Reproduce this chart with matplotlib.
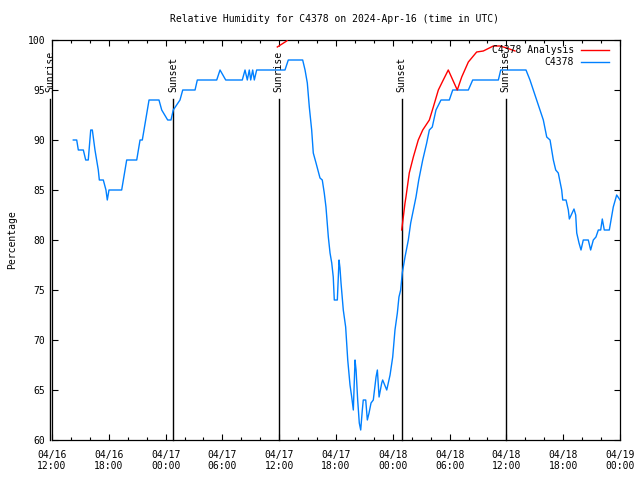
import numpy as np
import matplotlib
matplotlib.use("Agg")
import matplotlib.pyplot as plt

# Hours since 2024-04-16 12:00 UTC
obs_hours = [2.25, 2.61, 2.78, 3.31, 3.56, 3.83, 4.09, 4.26, 4.54, 4.89, 5.0, 5.42, 5.70, 5.84, 6.02,
             7.36, 7.89, 8.95, 9.30, 9.54, 10.25, 11.30, 11.59, 12.22, 12.57, 12.81, 13.52, 13.81,
             15.11, 15.35, 17.40, 17.75, 18.35, 20.10, 20.39, 20.63, 20.84, 20.99, 21.20, 21.37,
             21.62, 24.61, 24.96, 26.48, 26.73, 26.97, 27.18, 27.43, 27.60, 27.89, 28.31, 28.55,
             28.76, 28.94, 29.19, 29.37, 29.55, 29.71, 29.82, 30.14, 30.32, 30.42, 30.53, 30.77,
             31.02, 31.24, 31.48, 31.66, 31.83, 32.01, 32.12, 32.29, 32.46, 32.61, 32.78, 32.88,
             33.14, 33.31, 33.49, 33.70, 33.94, 34.23, 34.37, 34.55, 34.83, 34.93, 35.36, 35.71,
             35.99, 36.23, 36.48, 36.65, 36.83, 37.00, 37.29, 37.64, 37.89, 38.17, 38.45, 38.74,
             39.16, 39.58, 39.86, 40.17, 40.56, 41.09, 41.97, 42.33, 43.98, 44.44, 47.15, 47.40,
             50.07, 50.49, 51.20, 51.90, 52.26, 52.61, 52.96, 53.21, 53.48, 53.84, 53.95, 54.30,
             54.54, 54.65, 55.14, 55.32, 55.43, 55.67, 55.88, 56.12, 56.65, 56.90, 57.18, 57.46,
             57.71, 57.96, 58.13, 58.34, 58.87, 59.29, 59.65, 60.0]
obs_values = [90, 90, 89, 89, 88, 88, 91, 91, 89, 87, 86, 86, 85, 84, 85,
              85, 88, 88, 90, 90, 94, 94, 93, 92, 92, 93, 94, 95,
              95, 96, 96, 97, 96, 96, 97, 96, 97, 96, 97, 96,
              97, 97, 98, 98, 97, 95.7, 93.3, 91, 88.7, 87.7, 86.2, 86,
              84.7, 83.3, 80.3, 78.7, 77.7, 76.3, 74, 74, 78, 77.2, 75.7, 73,
              71.3, 68, 65.5, 64.3, 63, 68, 67, 64, 61.7, 61, 63, 64,
              64, 62, 62.7, 63.7, 64, 66.3, 67, 64.3, 65.7, 66, 65, 66.5,
              68.3, 71, 72.7, 74.3, 75, 76.7, 78.3, 80, 81.7, 83, 84.3, 86,
              88, 89.7, 91, 91.3, 93, 94, 94, 95, 95, 96, 96, 97,
              97, 96, 94, 92, 90.3, 90, 88, 87, 86.7, 85, 84, 84,
              83, 82.1, 83.1, 82.5, 80.7, 79.7, 79, 80, 80, 79, 80, 80.3,
              81, 81, 82.1, 81, 81, 83.3, 84.5, 84]

ana_hours = [23.80, 24.79, 25.0, np.nan, 36.94, 37.11, 37.29, 37.39, 37.74, 38.17, 38.69, 39.16,
             39.86, 40.28, 40.81, 41.33, 41.86, 42.81, 43.28, 43.98, 44.86, 45.56, 46.62,
             47.32, 48.03, 48.91]
ana_values = [99.3, 99.9, 100.2, np.nan, 81, 82.3, 83.7, 84.3, 86.7, 88.3, 90, 91,
              92, 93.3, 95, 96, 97, 95, 96.3, 97.8, 98.8, 98.9, 99.4,
              99.4, 99.2, 98.9]

sun_hours = [-0.2, 12.81, 23.95, 36.94, 47.93]
sun_labels = ["Sunrise", "Sunset", "Sunrise", "Sunset", "Sunrise"]

xtick_hours = [0, 6, 12, 18, 24, 30, 36, 42, 48, 54, 60]
xtick_labels = ["04/16\n12:00", "04/16\n18:00", "04/17\n00:00", "04/17\n06:00", "04/17\n12:00",
                "04/17\n18:00", "04/18\n00:00", "04/18\n06:00", "04/18\n12:00", "04/18\n18:00",
                "04/19\n00:00"]
ytick_values = [60, 65, 70, 75, 80, 85, 90, 95, 100]

FONT = "DejaVu Sans Mono"
FS = 7
plt.rcParams['font.family'] = FONT

fig = plt.figure(figsize=(6.4, 4.8), dpi=100)
ax = fig.add_axes([52/640, 40/480, 568/640, 400/480])

ax.plot(obs_hours, obs_values, color='#0080ff', lw=1.0, zorder=3)
ax.plot(ana_hours, ana_values, color='#ff0000', lw=1.0, zorder=3)

ax.set_xlim(0, 60)
ax.set_ylim(60, 100)

for h, lab in zip(sun_hours, sun_labels):
    ax.plot([h, h], [60, 94.1], color='black', lw=1.0, clip_on=False, zorder=2)
    ax.text(h, 94.8, lab, rotation=90, ha='center', va='bottom', fontsize=FS, zorder=4)

ax.set_xticks(xtick_hours)
ax.set_xticklabels(xtick_labels, fontsize=FS)
ax.set_xticks(np.arange(0, 61, 2), minor=True)
ax.set_yticks(ytick_values)
ax.set_yticklabels([str(v) for v in ytick_values], fontsize=FS)
ax.tick_params(axis='both', which='major', direction='in', length=4, width=0.8,
               top=True, right=True, pad=5)
ax.tick_params(axis='x', which='minor', direction='in', length=2, width=0.8, top=True)
ax.tick_params(axis='x', which='major', pad=7)
for sp in ax.spines.values():
    sp.set_linewidth(0.9)

# legend (gnuplot style)
ax.text(0.919, 0.975, "C4378 Analysis", transform=ax.transAxes, ha='right', va='center', fontsize=FS, zorder=5)
ax.plot([0.9313, 0.9815], [0.975, 0.975], transform=ax.transAxes, color='#ff0000', lw=1.0, zorder=5)
ax.text(0.919, 0.944, "C4378", transform=ax.transAxes, ha='right', va='center', fontsize=FS, zorder=5)
ax.plot([0.9313, 0.9815], [0.944, 0.944], transform=ax.transAxes, color='#0080ff', lw=1.0, zorder=5)

fig.text(335/640, 1 - 19/480, "Relative Humidity for C4378 on 2024-Apr-16 (time in UTC)",
         ha='center', va='center', fontsize=FS)
fig.text(12/640, 0.5, "Percentage", rotation=90, ha='center', va='center', fontsize=FS)

fig.savefig("out.png", dpi=100)
